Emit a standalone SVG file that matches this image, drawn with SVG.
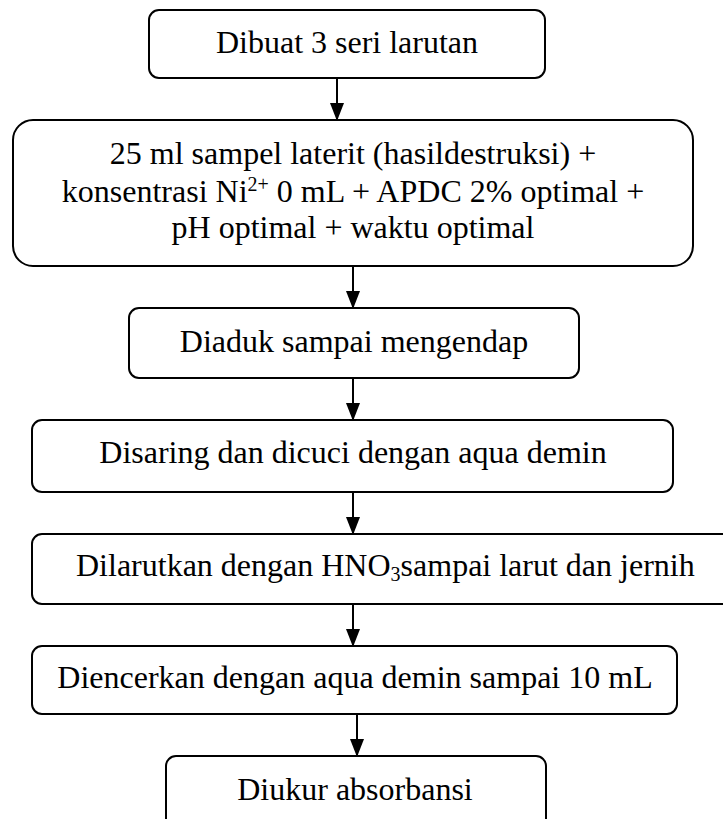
<svg xmlns="http://www.w3.org/2000/svg" width="723" height="819" viewBox="0 0 723 819">
<style>
.box{fill:#fff;stroke:#000;stroke-width:2}
.t{font-family:"Liberation Serif","Times New Roman",serif;font-size:32px;fill:#000;text-anchor:middle}
.s{font-size:20px}
.c{stroke:#000;stroke-width:2;fill:none;marker-end:url(#ah)}
</style>
<defs>
<marker id="ah" markerUnits="userSpaceOnUse" markerWidth="14" markerHeight="18" refX="7" refY="17" orient="0" viewBox="0 0 14 18">
<path d="M0,0 L14,0 L7,18 z" fill="#000"/>
</marker>
</defs>
<rect width="723" height="819" fill="#fff"/>
<g id="connectors">
<line class="c" x1="337" y1="78" x2="337" y2="120"/>
<line class="c" x1="353" y1="266" x2="353" y2="308"/>
<line class="c" x1="353" y1="378" x2="353" y2="420"/>
<line class="c" x1="353" y1="492" x2="353" y2="534"/>
<line class="c" x1="353" y1="604" x2="353" y2="646"/>
<line class="c" x1="357" y1="714" x2="357" y2="756"/>
</g>
<g id="n1">
<rect class="box" x="149" y="10" width="396" height="68" rx="10"/>
<text class="t" x="347" y="53">Dibuat 3 seri larutan</text>
</g>
<g id="n2">
<rect class="box" x="13" y="120" width="680" height="146" rx="20"/>
<text class="t" x="353" y="164">25 ml sampel laterit (hasildestruksi) +</text>
<text class="t" x="353" y="202">konsentrasi Ni<tspan class="s" dy="-11">2+</tspan><tspan dy="11"> 0 mL + APDC 2% optimal +</tspan></text>
<text class="t" x="353" y="238">pH optimal + waktu optimal</text>
</g>
<g id="n3">
<rect class="box" x="129" y="308" width="450" height="70" rx="10"/>
<text class="t" x="354" y="352">Diaduk sampai mengendap</text>
</g>
<g id="n4">
<rect class="box" x="32" y="420" width="641" height="72" rx="10"/>
<text class="t" x="353" y="463">Disaring dan dicuci dengan aqua demin</text>
</g>
<g id="n5">
<rect class="box" x="32" y="534" width="710" height="70" rx="10"/>
<text class="t" x="76" y="576" style="text-anchor:start">Dilarutkan dengan HNO<tspan class="s" dy="5">3</tspan><tspan dy="-5">sampai larut dan jernih</tspan></text>
</g>
<g id="n6">
<rect class="box" x="32" y="646" width="645" height="68" rx="10"/>
<text class="t" x="355" y="688">Diencerkan dengan aqua demin sampai 10 mL</text>
</g>
<g id="n7">
<rect class="box" x="166" y="756" width="380" height="72" rx="10"/>
<text class="t" x="355" y="800">Diukur absorbansi</text>
</g>
</svg>
